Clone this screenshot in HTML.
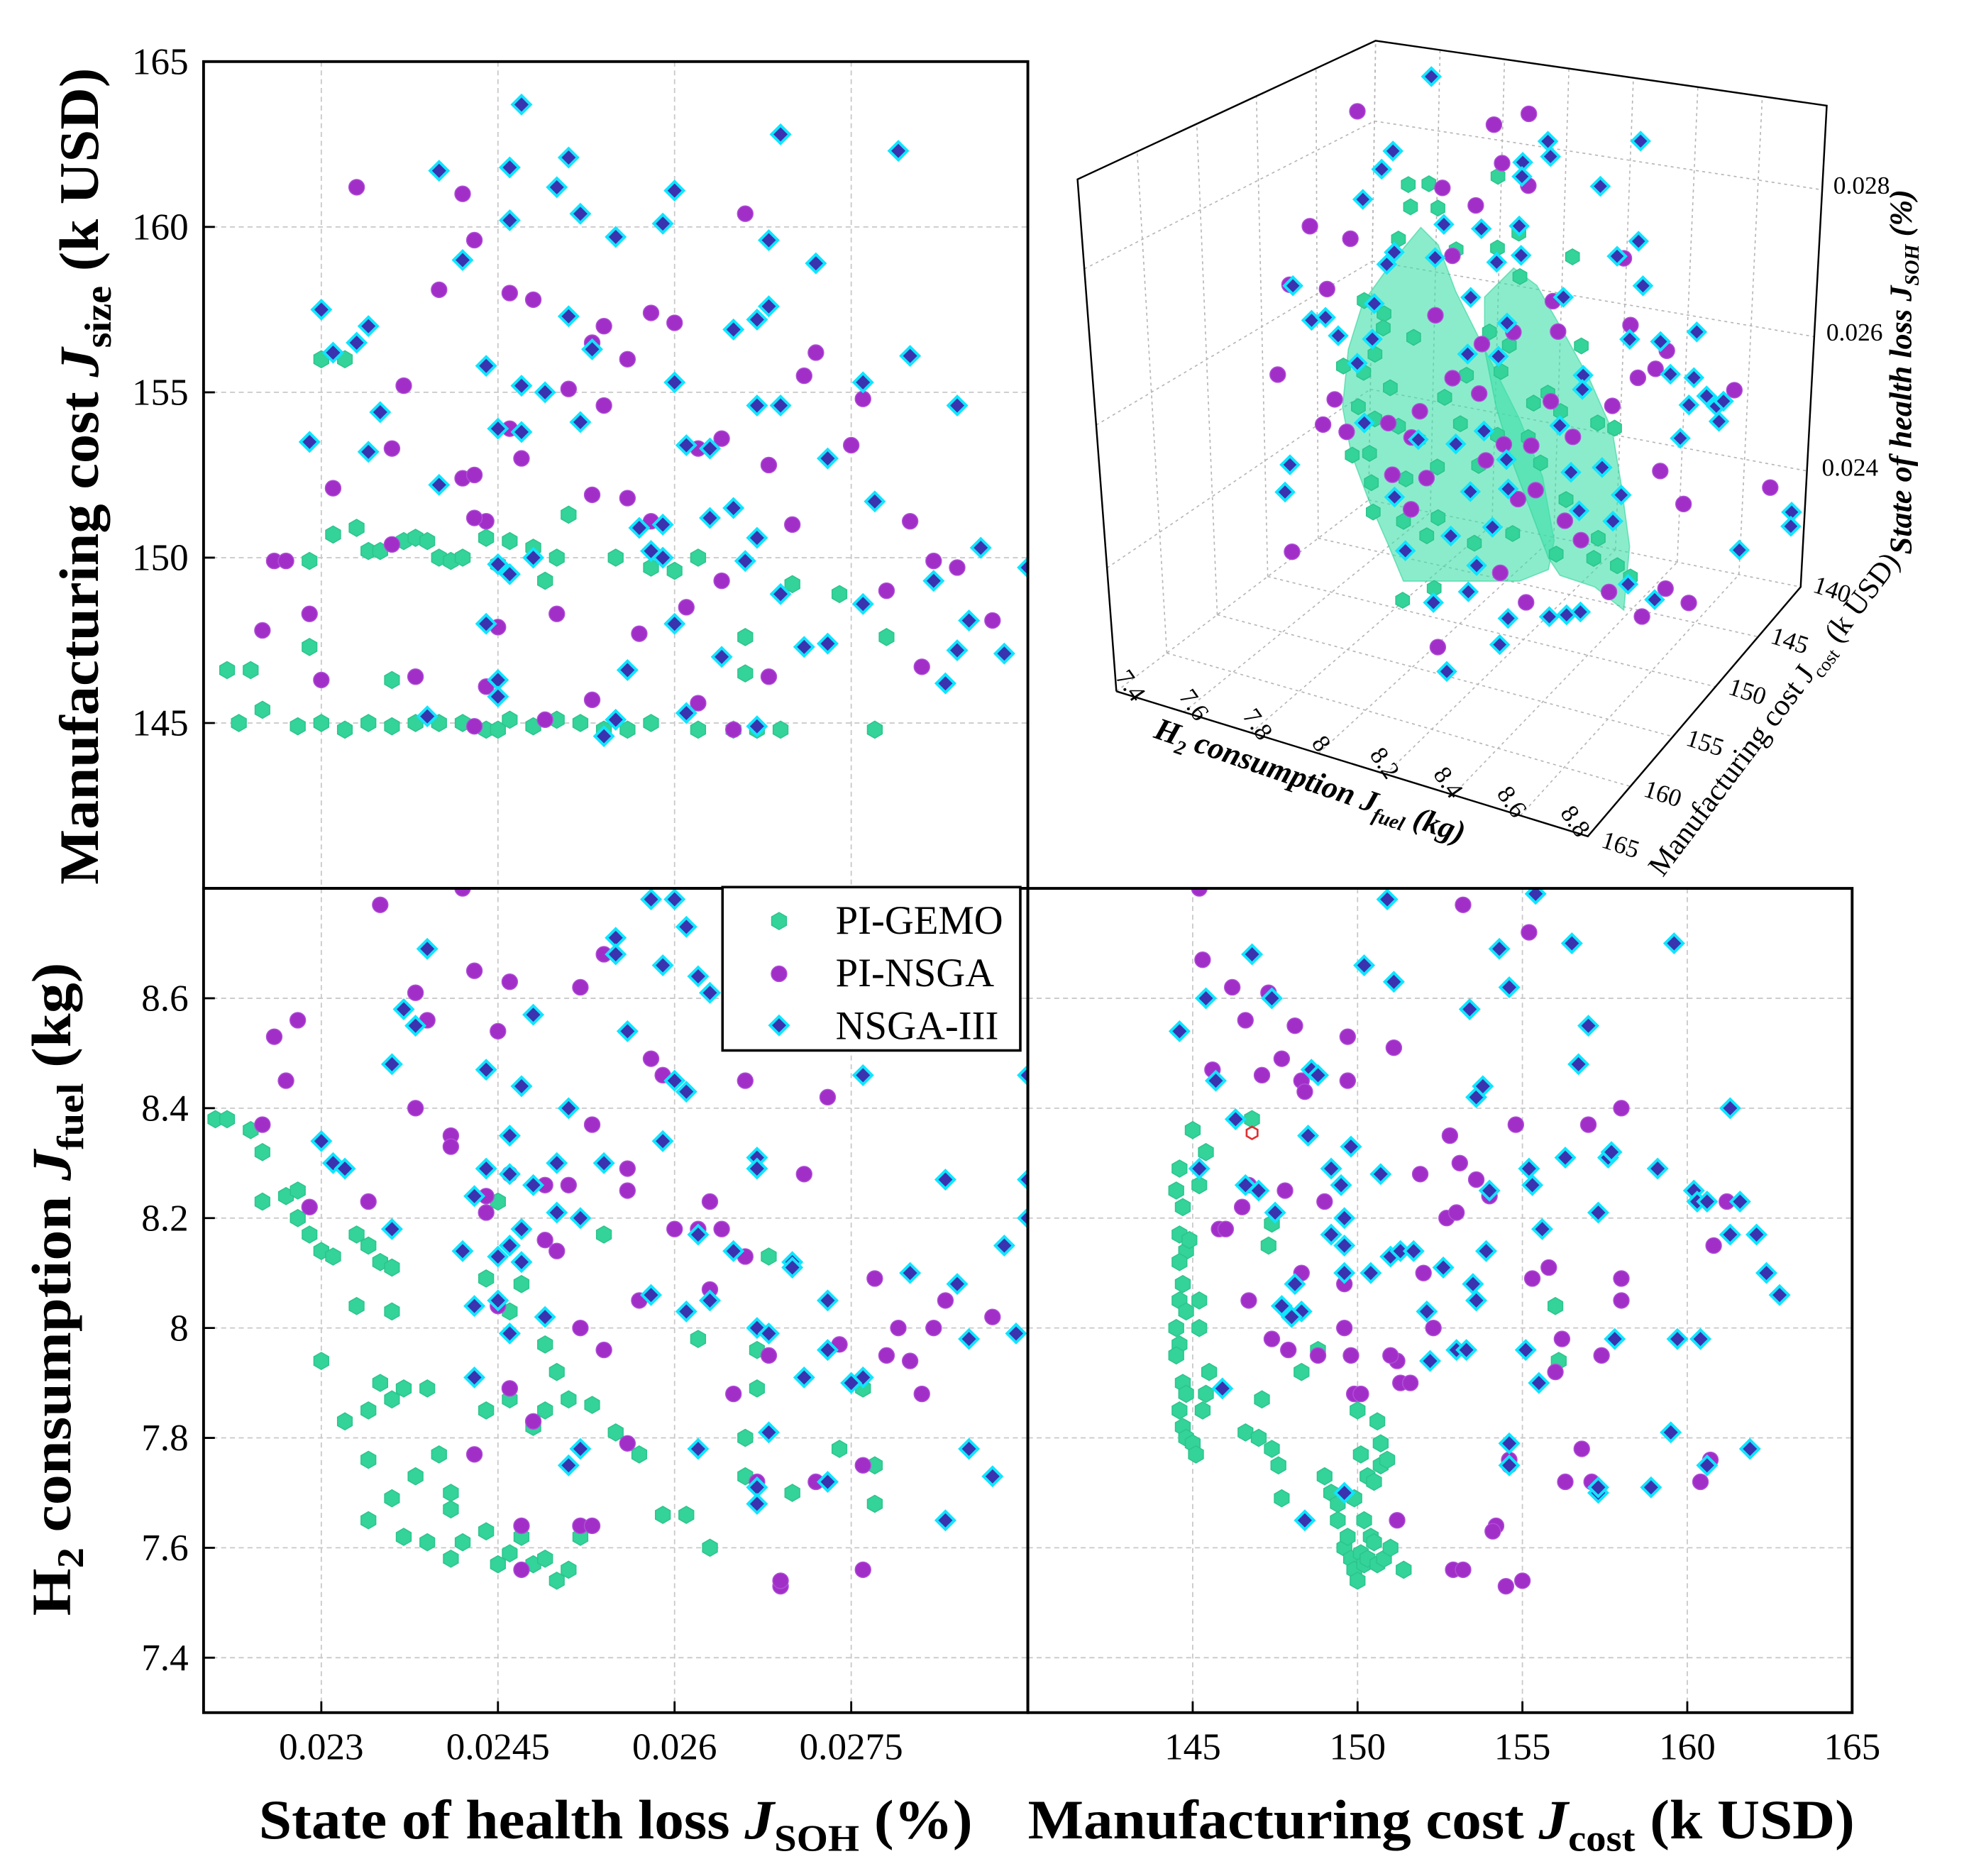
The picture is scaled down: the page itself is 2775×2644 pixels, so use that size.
<!DOCTYPE html>
<html><head><meta charset="utf-8"><title>Pareto fronts</title>
<style>
html,body{margin:0;padding:0;background:#fff;}
svg{display:block;}
text{font-family:"Liberation Serif","Times New Roman",serif;fill:#000;}
</style></head>
<body>
<svg id="chart" xmlns="http://www.w3.org/2000/svg" width="2775" height="2644" viewBox="0 -1 1567 1493">
<defs>
<clipPath id="clipTL"><rect x="162" y="48" width="656" height="658"/></clipPath>
<clipPath id="clipBL"><rect x="162" y="706" width="656" height="656"/></clipPath>
<clipPath id="clipBR"><rect x="818" y="706" width="656" height="656"/></clipPath>
</defs>
<rect x="0" y="-1" width="1567" height="1493" fill="#fff"/>
<g id="grids"></g>
<g id="box3d" transform="translate(840,0) scale(0.4615)">
  <g id="grid3d"></g>
  <g fill="#3de0a8" fill-opacity="0.6" stroke="#2fd39a" stroke-opacity="0.6" stroke-width="2">
    <polygon points="630,390 660,420 690,500 720,560 760,640 800,720 840,820 860,930 850,980 800,1000 700,1000 600,1000 575,940 540,860 510,780 495,700 505,600 530,520 580,450"/>
    <polygon points="740,510 790,460 830,490 870,560 920,650 960,740 975,830 990,940 980,1050 930,1010 870,990 850,960 820,880 790,800 760,700 740,600"/>
  </g>
</g>
<g id="points3d"></g>
<g id="box3dFront" transform="translate(840,0) scale(0.4615)" fill="none" stroke="#000" stroke-width="3">
  <polyline points="105,1190 38,307 552,68 1330,180 1285,1010 918,1440 105,1190"/>
</g>
<g id="labels3d"></g>
<g id="marksTL" clip-path="url(#clipTL)"></g>
<g id="marksBL" clip-path="url(#clipBL)"></g>
<g id="marksBR" clip-path="url(#clipBR)"></g>
<g id="frames" fill="none" stroke="#000" stroke-width="2.2">
  <rect x="162" y="48" width="656" height="658"/>
  <rect x="162" y="706" width="656" height="656"/>
  <rect x="818" y="706" width="656" height="656"/>
</g>
<g id="ticks"></g>
<text transform="translate(78,378) rotate(-90)" text-anchor="middle" font-weight="bold" font-size="44" textLength="650" lengthAdjust="spacingAndGlyphs">Manufacturing cost <tspan font-style="italic">J</tspan><tspan font-size="30" dy="10">size</tspan><tspan dy="-10"> (k USD)</tspan></text>
<text transform="translate(56,1025) rotate(-90)" text-anchor="middle" font-weight="bold" font-size="44" textLength="520" lengthAdjust="spacingAndGlyphs">H<tspan font-size="30" dy="10">2</tspan><tspan dy="-10"> consumption </tspan><tspan font-style="italic">J</tspan><tspan font-size="30" dy="10">fuel</tspan><tspan dy="-10"> (kg)</tspan></text>
<text x="490" y="1462" text-anchor="middle" font-weight="bold" font-size="44" textLength="568" lengthAdjust="spacingAndGlyphs">State of health loss <tspan font-style="italic">J</tspan><tspan font-size="30" dy="10">SOH</tspan><tspan dy="-10"> (%)</tspan></text>
<text x="1147" y="1462" text-anchor="middle" font-weight="bold" font-size="44" textLength="658" lengthAdjust="spacingAndGlyphs">Manufacturing cost <tspan font-style="italic">J</tspan><tspan font-size="30" dy="10">cost</tspan><tspan dy="-10"> (k USD)</tspan></text>
<g id="legend">
  <rect x="575" y="705" width="237" height="130" fill="#fff" stroke="#000" stroke-width="2"/>
  <g id="legendMarks"></g>
  <text x="665" y="742" font-size="32">PI-GEMO</text>
  <text x="665" y="784" font-size="32">PI-NSGA</text>
  <text x="665" y="826" font-size="32">NSGA-III</text>
</g>
</svg>
<script>
// ---------- data: top-left (SOH loss, manufacturing cost) ----------
const tlGemo = [[0.0222,146.6],[0.0224,146.6],[0.0223,145.0],[0.0225,145.4],[0.0228,144.9],[0.0229,147.3],[0.0230,145.0],[0.0232,144.8],[0.0234,145.0],[0.0236,144.9],[0.0238,145.0],[0.0240,145.0],[0.0242,145.0],[0.0244,144.8],[0.0245,144.8],[0.0246,145.1],[0.0248,144.9],[0.0250,145.1],[0.0252,145.0],[0.0254,144.8],[0.0256,144.8],[0.0258,145.0],[0.0262,144.8],[0.0265,144.8],[0.0267,144.8],[0.0269,144.8],[0.0277,144.8],[0.0230,156.0],[0.0232,156.0],[0.0231,150.7],[0.0233,150.9],[0.0234,150.2],[0.0235,150.2],[0.0237,150.5],[0.0238,150.6],[0.0239,150.5],[0.0240,150.0],[0.0241,149.9],[0.0242,150.0],[0.0244,150.6],[0.0245,149.8],[0.0246,150.5],[0.0248,150.3],[0.0249,149.3],[0.0250,150.0],[0.0251,151.3],[0.0255,150.0],[0.0258,149.7],[0.0260,149.6],[0.0262,150.0],[0.0266,147.6],[0.0266,146.5],[0.0270,149.2],[0.0274,148.9],[0.0278,147.6],[0.0236,146.3],[0.0229,149.9]];
const tlNsga = [[0.0233,161.2],[0.0242,161.0],[0.0243,159.6],[0.0240,158.1],[0.0237,155.2],[0.0236,153.3],[0.0231,152.1],[0.0242,152.4],[0.0243,152.5],[0.0244,151.1],[0.0243,151.2],[0.0226,149.9],[0.0227,149.9],[0.0225,147.8],[0.0229,148.3],[0.0230,146.3],[0.0238,146.4],[0.0244,146.1],[0.0245,147.9],[0.0246,158.0],[0.0248,157.8],[0.0246,153.9],[0.0247,153.0],[0.0251,155.1],[0.0253,156.5],[0.0254,157.0],[0.0256,156.0],[0.0258,157.4],[0.0260,157.1],[0.0262,153.3],[0.0264,153.6],[0.0266,160.4],[0.0268,152.8],[0.0270,151.0],[0.0271,155.5],[0.0272,156.2],[0.0275,153.4],[0.0276,154.8],[0.0280,151.1],[0.0282,149.9],[0.0284,149.7],[0.0287,148.1],[0.0291,146.0],[0.0253,151.9],[0.0256,151.8],[0.0258,151.1],[0.0250,148.3],[0.0253,145.7],[0.0257,147.7],[0.0261,148.5],[0.0264,149.3],[0.0262,145.6],[0.0265,144.8],[0.0268,146.4],[0.0278,149.0],[0.0281,146.7],[0.0254,154.6],[0.0249,145.1],[0.0243,144.9],[0.0236,150.4]];
const tlNsga3 = [[0.0247,163.7],[0.0251,162.1],[0.0269,162.8],[0.0279,162.3],[0.0240,161.7],[0.0246,161.8],[0.0250,161.2],[0.0260,161.1],[0.0252,160.4],[0.0255,159.7],[0.0259,160.1],[0.0246,160.2],[0.0242,159.0],[0.0268,159.6],[0.0272,158.9],[0.0230,157.5],[0.0231,156.2],[0.0233,156.5],[0.0234,157.0],[0.0244,155.8],[0.0247,155.2],[0.0249,155.0],[0.0251,157.3],[0.0253,156.3],[0.0260,155.3],[0.0265,156.9],[0.0267,157.2],[0.0268,157.6],[0.0276,155.3],[0.0280,156.1],[0.0284,154.6],[0.0291,153.8],[0.0229,153.5],[0.0234,153.2],[0.0235,154.4],[0.0240,152.2],[0.0245,153.9],[0.0247,153.8],[0.0252,154.1],[0.0261,153.4],[0.0263,153.3],[0.0267,154.6],[0.0269,154.6],[0.0273,153.0],[0.0277,151.7],[0.0259,151.0],[0.0263,151.2],[0.0265,151.5],[0.0267,150.6],[0.0245,149.8],[0.0246,149.5],[0.0248,150.0],[0.0257,150.9],[0.0258,150.2],[0.0259,150.0],[0.0266,149.9],[0.0276,148.6],[0.0282,149.3],[0.0285,148.1],[0.0288,147.1],[0.0290,149.7],[0.0291,148.5],[0.0286,150.3],[0.0283,146.2],[0.0284,147.2],[0.0244,148.0],[0.0245,146.3],[0.0256,146.6],[0.0260,148.0],[0.0264,147.0],[0.0271,147.3],[0.0269,148.9],[0.0273,147.4],[0.0255,145.1],[0.0254,144.6],[0.0267,144.9],[0.0245,145.8],[0.0239,145.2],[0.0261,145.3]];
// ---------- data: bottom-left (SOH loss, H2 consumption) ----------
const blGemo = [[0.0221,8.38],[0.0222,8.38],[0.0224,8.36],[0.0225,8.32],[0.0225,8.23],[0.0227,8.24],[0.0228,8.25],[0.0228,8.20],[0.0229,8.17],[0.0230,8.14],[0.0231,8.13],[0.0233,8.17],[0.0233,8.04],[0.0234,8.15],[0.0235,8.12],[0.0236,8.11],[0.0236,8.03],[0.0230,7.94],[0.0232,7.83],[0.0234,7.85],[0.0236,7.87],[0.0235,7.90],[0.0237,7.89],[0.0239,7.89],[0.0234,7.76],[0.0236,7.69],[0.0238,7.73],[0.0240,7.77],[0.0241,7.70],[0.0241,7.67],[0.0234,7.65],[0.0237,7.62],[0.0239,7.61],[0.0241,7.58],[0.0242,7.61],[0.0244,7.63],[0.0245,7.57],[0.0246,7.59],[0.0247,7.62],[0.0248,7.57],[0.0249,7.58],[0.0250,7.54],[0.0251,7.56],[0.0252,7.62],[0.0248,7.82],[0.0249,7.85],[0.0251,7.87],[0.0253,7.86],[0.0255,7.81],[0.0257,7.77],[0.0259,7.66],[0.0261,7.66],[0.0263,7.60],[0.0244,8.09],[0.0245,8.23],[0.0246,8.03],[0.0247,8.08],[0.0249,7.97],[0.0250,7.92],[0.0254,8.17],[0.0266,7.80],[0.0267,7.89],[0.0268,8.13],[0.0266,7.73],[0.0270,7.70],[0.0274,7.78],[0.0277,7.75],[0.0277,7.68],[0.0276,7.89],[0.0267,7.96],[0.0244,7.85],[0.0246,7.87],[0.0262,7.98]];
const blNsga = [[0.0226,8.53],[0.0227,8.45],[0.0228,8.56],[0.0225,8.37],[0.0229,8.22],[0.0234,8.23],[0.0235,8.77],[0.0238,8.61],[0.0239,8.56],[0.0238,8.40],[0.0241,8.35],[0.0241,8.33],[0.0243,8.65],[0.0242,8.80],[0.0245,8.54],[0.0246,8.63],[0.0244,8.21],[0.0244,8.24],[0.0246,8.28],[0.0249,8.26],[0.0251,8.26],[0.0253,8.37],[0.0252,8.62],[0.0254,8.68],[0.0256,8.29],[0.0256,8.25],[0.0258,8.49],[0.0259,8.46],[0.0260,8.18],[0.0262,8.18],[0.0263,8.23],[0.0264,8.18],[0.0266,8.45],[0.0266,8.13],[0.0249,8.16],[0.0250,8.14],[0.0245,8.04],[0.0246,7.89],[0.0243,7.77],[0.0248,7.83],[0.0252,8.00],[0.0254,7.96],[0.0257,8.05],[0.0263,8.07],[0.0265,7.88],[0.0267,7.72],[0.0268,7.95],[0.0271,8.28],[0.0272,7.72],[0.0274,7.97],[0.0273,8.42],[0.0276,7.75],[0.0277,8.09],[0.0278,7.95],[0.0279,8.00],[0.0280,7.94],[0.0281,7.88],[0.0283,8.05],[0.0282,8.00],[0.0287,8.02],[0.0269,7.53],[0.0269,7.54],[0.0276,7.56],[0.0247,7.56],[0.0247,7.64],[0.0252,7.64],[0.0253,7.64],[0.0256,7.79]];
const blNsga3 = [[0.0230,8.34],[0.0231,8.30],[0.0232,8.29],[0.0236,8.18],[0.0236,8.48],[0.0237,8.58],[0.0238,8.55],[0.0239,8.69],[0.0242,8.14],[0.0243,8.24],[0.0244,8.29],[0.0244,8.47],[0.0246,8.35],[0.0246,8.28],[0.0245,8.13],[0.0246,8.15],[0.0247,8.18],[0.0247,8.44],[0.0248,8.26],[0.0248,8.57],[0.0250,8.21],[0.0251,8.40],[0.0250,8.30],[0.0252,8.20],[0.0254,8.30],[0.0255,8.71],[0.0255,8.68],[0.0256,8.54],[0.0258,8.78],[0.0259,8.66],[0.0260,8.78],[0.0261,8.73],[0.0259,8.34],[0.0260,8.45],[0.0261,8.43],[0.0262,8.64],[0.0263,8.61],[0.0262,8.17],[0.0265,8.14],[0.0267,8.31],[0.0267,8.29],[0.0270,8.12],[0.0270,8.11],[0.0273,8.05],[0.0276,8.46],[0.0280,8.10],[0.0283,8.27],[0.0284,8.08],[0.0288,8.15],[0.0290,8.20],[0.0290,8.27],[0.0290,8.46],[0.0289,7.99],[0.0285,7.98],[0.0285,7.78],[0.0283,7.65],[0.0287,7.73],[0.0276,7.91],[0.0275,7.90],[0.0273,7.96],[0.0271,7.91],[0.0267,8.00],[0.0268,7.99],[0.0263,8.05],[0.0261,8.03],[0.0258,8.06],[0.0262,7.78],[0.0267,7.71],[0.0267,7.68],[0.0268,7.81],[0.0273,7.72],[0.0252,7.78],[0.0251,7.75],[0.0249,8.02],[0.0247,8.12],[0.0243,8.04],[0.0243,7.91],[0.0246,7.99],[0.0245,8.05]];
// ---------- data: bottom-right (manufacturing cost, H2 consumption) ----------
const brGemo = [[144.6,8.29],[144.5,8.25],[144.7,8.22],[144.6,8.17],[144.8,8.14],[144.6,8.12],[144.7,8.08],[144.6,8.05],[144.8,8.03],[144.5,8.00],[144.6,7.97],[144.5,7.95],[144.7,7.90],[144.8,7.88],[144.6,7.85],[144.7,7.82],[144.8,7.80],[145.0,7.79],[145.1,7.77],[145.3,7.85],[145.4,7.88],[145.5,7.92],[145.0,8.36],[145.2,8.26],[145.4,8.32],[145.2,8.00],[144.9,8.16],[145.2,8.05],[146.8,8.38],[146.6,7.81],[147.0,7.80],[147.1,7.87],[147.3,8.15],[147.4,8.19],[147.4,7.78],[147.6,7.75],[147.7,7.69],[148.3,7.92],[148.8,7.96],[149.0,7.73],[149.2,7.70],[149.4,7.68],[149.4,7.65],[149.6,7.60],[149.7,7.62],[149.8,7.58],[149.9,7.56],[150.0,7.54],[150.1,7.59],[150.2,7.57],[150.3,7.58],[150.4,7.62],[150.5,7.61],[150.6,7.57],[150.8,7.58],[151.0,7.60],[150.1,7.77],[150.3,7.73],[150.5,7.72],[150.7,7.75],[150.9,7.76],[150.0,7.85],[150.6,7.83],[150.7,7.79],[151.4,7.56],[156.0,8.04],[156.1,7.94],[150.2,7.65],[149.9,7.69]];
const brNsga = [[145.2,8.80],[145.3,8.67],[145.6,8.47],[146.2,8.62],[146.6,8.56],[147.1,8.46],[147.3,8.61],[147.7,8.49],[148.1,8.55],[148.3,8.45],[148.4,8.43],[149.7,8.53],[149.7,8.45],[151.1,8.51],[145.8,8.18],[146.0,8.18],[146.5,8.22],[146.7,8.26],[146.7,8.05],[147.4,7.98],[147.8,8.25],[148.3,8.10],[147.9,7.96],[148.8,7.95],[149.0,8.23],[149.6,8.00],[149.8,7.95],[149.9,7.88],[151.2,7.94],[151.3,7.90],[151.0,7.95],[151.6,7.90],[151.9,8.28],[152.0,8.10],[152.3,8.00],[152.8,8.35],[152.7,8.20],[153.0,8.21],[153.1,8.30],[153.2,8.77],[153.6,8.27],[154.0,8.24],[154.8,8.37],[155.2,8.72],[155.3,8.09],[155.8,8.11],[156.2,7.98],[157.0,8.37],[157.4,7.95],[158.0,8.40],[158.0,8.05],[158.0,8.09],[156.8,7.78],[157.1,7.72],[156.3,7.72],[156.0,7.92],[154.6,7.75],[154.6,7.76],[154.2,7.64],[154.1,7.63],[152.9,7.56],[153.2,7.56],[154.5,7.53],[155.0,7.54],[151.2,7.65],[160.4,7.72],[160.7,7.76],[160.8,8.15],[161.2,8.23],[150.1,7.88],[149.6,8.08]];
const brNsga3 = [[144.6,8.54],[145.4,8.60],[145.7,8.45],[146.8,8.68],[147.4,8.60],[146.3,8.38],[146.6,8.26],[147.0,8.25],[147.5,8.21],[147.7,8.04],[148.1,8.08],[148.3,8.03],[148.0,8.02],[148.5,8.35],[148.6,8.47],[148.8,8.46],[149.2,8.29],[149.5,8.26],[149.6,8.20],[149.2,8.17],[149.6,8.15],[149.6,8.10],[149.8,8.33],[150.2,8.66],[150.4,8.10],[150.9,8.78],[151.1,8.63],[150.7,8.28],[151.0,8.13],[151.3,8.14],[151.7,8.14],[152.1,8.03],[152.2,7.94],[152.6,8.11],[153.0,7.96],[153.4,8.58],[153.6,8.42],[153.8,8.44],[153.5,8.08],[153.6,8.05],[153.9,8.14],[154.0,8.25],[154.3,8.69],[154.6,8.62],[155.4,8.79],[155.2,8.29],[155.3,8.26],[155.6,8.18],[156.5,8.70],[156.3,8.31],[156.7,8.48],[157.0,8.55],[157.3,8.21],[157.6,8.31],[157.7,8.32],[159.6,8.70],[159.1,8.29],[160.2,8.25],[160.3,8.23],[160.6,8.23],[161.3,8.40],[161.6,8.23],[162.1,8.17],[162.4,8.10],[162.8,8.06],[161.3,8.17],[159.7,7.98],[160.4,7.98],[158.9,7.71],[159.5,7.81],[160.6,7.75],[161.9,7.78],[157.3,7.70],[157.3,7.71],[155.5,7.90],[154.6,7.79],[154.6,7.75],[155.1,7.96],[153.3,7.96],[157.8,7.98],[148.4,7.65],[149.6,7.70],[145.9,7.89],[145.2,8.29]];
const brHighlight = [[146.8,8.355]];
// ---------- data: 3D panel (fuel, cost, soh) ----------
const gemo3dFuel = [7.88,7.94,7.89,7.97,8.14,7.86,8.03,8.15,8.21,8.37,8.22,7.77,7.83,7.83,7.92,7.72,7.81,7.86,7.77,7.82,7.76,7.81,7.89,8.02,8.08,8.14,8.20,8.18,8.41,8.32,8.28,8.36,8.47,8.52,7.82,7.92,8.01,8.13,8.18,8.31,8.39,7.83,7.92,7.99,8.02,8.13,8.24,8.37,8.49,8.48,8.55,8.59,7.93,8.02,7.78,7.95,8.07,8.27];
const gemo3dCost = [152.5,152.5,152.5,152.5,152.5,152.5,152.5,152.5,152.5,152.5,152.5,152.5,152.5,152.5,152.5,152.5,152.5,152.5,152.5,152.5,152.5,152.5,152.5,152.5,152.5,152.5,152.5,152.5,152.5,152.5,152.5,152.5,152.5,152.5,152.5,152.5,152.5,152.5,152.5,152.5,152.5,152.5,152.5,152.5,152.5,152.5,152.5,152.5,152.5,152.5,152.5,152.5,152.5,152.5,152.5,152.5,152.5,152.5];
const gemo3dSoh = [0.0285,0.0286,0.0282,0.0283,0.0290,0.0277,0.0278,0.0280,0.0283,0.0282,0.0277,0.0267,0.0266,0.0264,0.0264,0.0257,0.0260,0.0256,0.0252,0.0251,0.0245,0.0246,0.0251,0.0257,0.0261,0.0268,0.0267,0.0263,0.0270,0.0262,0.0260,0.0260,0.0260,0.0260,0.0242,0.0244,0.0247,0.0249,0.0254,0.0252,0.0248,0.0238,0.0238,0.0237,0.0240,0.0238,0.0241,0.0240,0.0244,0.0241,0.0241,0.0240,0.0227,0.0230,0.0257,0.0250,0.0254,0.0255];
const nsga3dFuel = [7.72,8.12,8.22,8.15,8.23,7.60,7.98,8.08,7.72,8.02,7.55,7.66,7.98,8.12,8.21,8.34,8.32,8.52,8.55,8.58,8.66,8.62,7.53,7.70,7.67,7.74,7.86,7.95,8.04,8.12,7.93,8.20,8.28,8.33,8.40,8.51,8.15,7.98,7.88,8.30,8.25,8.39,8.44,7.94,7.60,8.66,8.49,8.74,8.21,8.29,8.53,8.63,8.59,8.66,8.04,8.63];
const nsga3dCost = [152.5,152.5,152.5,152.5,152.5,152.5,152.5,152.5,152.5,152.5,152.5,152.5,152.5,152.5,152.5,152.5,152.5,152.5,152.5,152.5,152.5,142,152.5,152.5,152.5,152.5,152.5,152.5,152.5,152.5,152.5,152.5,152.5,152.5,152.5,152.5,152.5,152.5,152.5,152.5,152.5,152.5,152.5,152.5,152.5,152.5,142,142,152.5,152.5,152.5,152.5,148,148,152.5,152.5];
const nsga3dSoh = [0.0293,0.0297,0.0300,0.0292,0.0290,0.0275,0.0286,0.0285,0.0275,0.0277,0.0266,0.0267,0.0268,0.0266,0.0269,0.0271,0.0275,0.0284,0.0275,0.0268,0.0273,0.0252,0.0253,0.0252,0.0248,0.0248,0.0251,0.0254,0.0260,0.0259,0.0250,0.0253,0.0254,0.0261,0.0257,0.0263,0.0250,0.0245,0.0244,0.0248,0.0246,0.0245,0.0243,0.0240,0.0229,0.0256,0.0234,0.0240,0.0235,0.0232,0.0237,0.0235,0.0232,0.0231,0.0222,0.0270];
const nsga33dFuel = [7.93,7.83,7.80,7.75,8.28,8.29,8.21,8.21,8.55,8.44,7.99,8.10,8.21,8.22,7.85,7.83,7.97,8.15,8.56,8.50,8.58,7.56,7.62,7.66,7.70,7.80,7.80,7.76,8.08,8.08,8.19,8.17,8.35,8.64,8.64,8.57,8.50,8.54,8.49,8.57,8.58,8.59,8.42,8.42,8.47,7.95,8.06,8.14,8.36,8.21,8.40,8.49,7.89,8.11,8.22,8.43,8.53,8.55,7.58,7.57,8.18,8.06,7.93,8.14,8.66,8.76,8.76,8.12,8.02,8.48,8.56,8.36,8.41,8.45,8.24,8.22,8.07,7.79,8.55];
const nsga33dCost = [152.5,152.5,152.5,152.5,152.5,152.5,152.5,152.5,152.5,152.5,152.5,152.5,152.5,152.5,152.5,152.5,152.5,152.5,152.5,152.5,152.5,152.5,152.5,152.5,152.5,152.5,152.5,152.5,152.5,152.5,152.5,152.5,152.5,148,152.5,148,142,142,142,142,142,142,152.5,152.5,142,152.5,152.5,152.5,152.5,152.5,152.5,152.5,152.5,152.5,152.5,152.5,152.5,152.5,152.5,152.5,152.5,152.5,152.5,152.5,142,140,140,152.5,152.5,148,148,152.5,152.5,152.5,152.5,152.5,152.5,152.5,152.5];
const nsga33dSoh = [0.0301,0.0289,0.0286,0.0281,0.0297,0.0295,0.0293,0.0291,0.0301,0.0293,0.0281,0.0282,0.0284,0.0280,0.0275,0.0273,0.0276,0.0278,0.0287,0.0284,0.0281,0.0266,0.0262,0.0263,0.0261,0.0267,0.0262,0.0258,0.0272,0.0264,0.0270,0.0265,0.0276,0.0269,0.0274,0.0262,0.0252,0.0250,0.0248,0.0249,0.0247,0.0250,0.0266,0.0264,0.0243,0.0250,0.0251,0.0254,0.0258,0.0251,0.0252,0.0254,0.0241,0.0245,0.0247,0.0247,0.0247,0.0251,0.0241,0.0237,0.0241,0.0238,0.0234,0.0235,0.0230,0.0234,0.0232,0.0231,0.0228,0.0231,0.0230,0.0231,0.0232,0.0233,0.0229,0.0225,0.0219,0.0250,0.0273];
// ---------- tick labels ----------
const sohTicks = [0.023,0.0245,0.026,0.0275];
const sohTickLabels = ["0.023","0.0245","0.026","0.0275"];
const costYTicks = [145,150,155,160,165];
const fuelTicks = [7.4,7.6,7.8,8,8.2,8.4,8.6];
const fuelTickLabels = ["7.4","7.6","7.8","8","8.2","8.4","8.6"];
const costXTicks = [145,150,155,160,165];
const fuel3dTicks = ["7.4","7.6","7.8","8","8.2","8.4","8.6","8.8"];
const cost3dTicks = ["140","145","150","155","160","165"];
const soh3dTicks = ["0.024","0.026","0.028"];

const NS = "http://www.w3.org/2000/svg";
const GREEN = "#33d39a", PURPLE = "#a22ec8", BLUE = "#3a33b0", CYAN = "#10e5ff";
function el(tag, attrs, parent){ const e=document.createElementNS(NS,tag); for(const k in attrs) e.setAttribute(k,attrs[k]); parent.appendChild(e); return e; }

const xSoh = v => 162 + (v - 0.022) / 0.007 * 656;
const yCostTL = v => 706 - (v - 140) / 25 * 658;
const yFuel = v => 1362 - (v - 7.3) / 1.5 * 656;
const xCost = v => 818 + (v - 140) / 25 * 656;

function hexagon(g, x, y, r, fill){
  const pts=[]; for(let i=0;i<6;i++){ const a=Math.PI/6+i*Math.PI/3; pts.push((x+r*Math.cos(a)).toFixed(1)+","+(y+r*Math.sin(a)).toFixed(1)); }
  return el("polygon",{points:pts.join(" "),fill:fill,stroke:"#2bc48c","stroke-width":0.8},g);
}
function circle(g,x,y,r){ return el("circle",{cx:x,cy:y,r:r,fill:PURPLE,stroke:"#b050d8","stroke-width":0.8},g); }
function diamond(g,x,y,r){ return el("polygon",{points:`${x},${y-r} ${x+r},${y} ${x},${y+r} ${x-r},${y}`,fill:BLUE,stroke:CYAN,"stroke-width":2.2},g); }

function drawSeries(g, data, fx, fy, kind, name){
  data.forEach(d=>{
    const x=fx(d[0]), y=fy(d[1]); let m;
    if(kind==="hex") m=hexagon(g,x,y,6.8,GREEN);
    else if(kind==="circ") m=circle(g,x,y,6.2);
    else m=diamond(g,x,y,7.2);
    
    
  });
}

const grids=document.getElementById("grids");
function gline(x1,y1,x2,y2){ const l=el("line",{x1:x1,y1:y1,x2:x2,y2:y2,stroke:"#c8c8c8","stroke-width":1,"stroke-dasharray":"4,3"},grids);
    }
sohTicks.forEach(v=>{ gline(xSoh(v),48,xSoh(v),706); gline(xSoh(v),706,xSoh(v),1362); });
costYTicks.slice(0,4).forEach(v=>gline(162,yCostTL(v),818,yCostTL(v)));
fuelTicks.forEach(v=>{ gline(162,yFuel(v),818,yFuel(v)); gline(818,yFuel(v),1474,yFuel(v)); });
costXTicks.slice(0,4).forEach(v=>gline(xCost(v),706,xCost(v),1362));

const ticks=document.getElementById("ticks");
function tk(x1,y1,x2,y2){ el("line",{x1:x1,y1:y1,x2:x2,y2:y2,stroke:"#000","stroke-width":1.6},ticks); }
function lbl(x,y,t,anchor,name){ const e=el("text",{x:x,y:y,"font-size":30,"text-anchor":anchor},ticks); e.textContent=t;
    }
sohTicks.forEach((v,i)=>{ tk(xSoh(v),1362,xSoh(v),1353); lbl(xSoh(v),1399,sohTickLabels[i],"middle","x-tick-label-soh"); });
costYTicks.forEach(v=>{ tk(162,yCostTL(v),171,yCostTL(v)); lbl(150,yCostTL(v)+10,String(v),"end","y-tick-label-cost"); });
fuelTicks.forEach((v,i)=>{ tk(162,yFuel(v),171,yFuel(v)); lbl(150,yFuel(v)+10,fuelTickLabels[i],"end","y-tick-label-fuel"); });
costXTicks.forEach(v=>{ tk(xCost(v),1362,xCost(v),1353); lbl(xCost(v),1399,String(v),"middle","x-tick-label-cost"); });

const gTL=document.getElementById("marksTL"), gBL=document.getElementById("marksBL"), gBR=document.getElementById("marksBR");
drawSeries(gTL,tlGemo,xSoh,yCostTL,"hex","pi-gemo-point");
drawSeries(gTL,tlNsga,xSoh,yCostTL,"circ","pi-nsga-point");
drawSeries(gTL,tlNsga3,xSoh,yCostTL,"dia","nsga-iii-point");
drawSeries(gBL,blGemo,xSoh,yFuel,"hex","pi-gemo-point");
drawSeries(gBL,blNsga,xSoh,yFuel,"circ","pi-nsga-point");
drawSeries(gBL,blNsga3,xSoh,yFuel,"dia","nsga-iii-point");
drawSeries(gBR,brGemo,xCost,yFuel,"hex","pi-gemo-point");
drawSeries(gBR,brNsga,xCost,yFuel,"circ","pi-nsga-point");
drawSeries(gBR,brNsga3,xCost,yFuel,"dia","nsga-iii-point");
brHighlight.forEach(d=>{ const h=hexagon(gBR,xCost(d[0]),yFuel(d[1]),5,"none"); h.setAttribute("stroke","#e03030"); h.setAttribute("stroke-width","1.5");
    });

const lg=document.getElementById("legendMarks");
let lm=hexagon(lg,620,732,6.8,GREEN);  
lm=circle(lg,620,774,6.2);  
lm=diamond(lg,620,815,7.2);  

const LT=[38,307], BT=[552,68], RT=[1330,180], LB=[105,1190], F=[918,1440], RB=[1285,1010], BF=[540,860];
const lerp=(a,b,t)=>[a[0]+(b[0]-a[0])*t,a[1]+(b[1]-a[1])*t];
const g3=document.getElementById("grid3d");
function g3line(p,q){ el("line",{x1:p[0],y1:p[1],x2:q[0],y2:q[1],stroke:"#b5b5b5","stroke-width":2,"stroke-dasharray":"5,6"},g3); }
const sohLevels=[0.241,0.52,0.825];
for(let k=0;k<=5;k++){ const u=k/5; g3line(lerp(LB,BF,u),lerp(LT,BT,u)); g3line(lerp(LB,BF,u),lerp(F,RB,u)); }
for(let k=0;k<=7;k++){ const u=k/7; g3line(lerp(BF,RB,u),lerp(BT,RT,u)); g3line(lerp(LB,F,u),lerp(BF,RB,u)); }
sohLevels.forEach(t=>{ g3line(lerp(LB,LT,t),lerp(BF,BT,t)); g3line(lerp(BF,BT,t),lerp(RB,RT,t)); });

function proj(fuel,cost,soh){
  const f=(fuel-7.4)/1.4, c=(165-cost)/25, s=(soh-0.0224)/0.0068;
  return [888.5+376*f+169*c+21*s, 549.2+116*f-199*c-383*s];
}
const p3=document.getElementById("points3d");
gemo3dFuel.forEach((v,i)=>{ const p=proj(v,gemo3dCost[i],gemo3dSoh[i]); const m=hexagon(p3,p[0],p[1],6.3,GREEN);
    });
nsga3dFuel.forEach((v,i)=>{ const p=proj(v,nsga3dCost[i],nsga3dSoh[i]); const m=circle(p3,p[0],p[1],6.2);
    });
nsga33dFuel.forEach((v,i)=>{ const p=proj(v,nsga33dCost[i],nsga33dSoh[i]); const m=diamond(p3,p[0],p[1],6.8);
    });

const l3=document.getElementById("labels3d");
const Z=(zx,zy)=>[840+zx*0.4615, zy*0.4615];
function lab3(p,t,rot,name,size){ const e=el("text",{x:0,y:0,"font-size":size||20,"text-anchor":"middle",transform:`translate(${p[0].toFixed(1)},${p[1].toFixed(1)}) rotate(${rot})`},l3);
  e.textContent=t;   return e; }
fuel3dTicks.forEach((t,i)=>{ const u=i/7; const base=lerp([118,1218],[885,1452],u); lab3(Z(base[0],base[1]-30),t,55,"3d-tick-label-fuel"); });
cost3dTicks.forEach((t,i)=>{ const u=i/5; const base=lerp([1335,1028],[970,1468],u); lab3(Z(base[0],base[1]),t,18,"3d-tick-label-cost"); });
soh3dTicks.forEach((t,i)=>{ const ys=[818,585,332]; const xs=[1370,1378,1390]; lab3(Z(xs[i],ys[i]),t,0,"3d-tick-label-soh"); });

let tt=el("text",{x:0,y:0,"font-size":25,"font-weight":"bold","font-style":"italic","text-anchor":"middle",transform:"translate(1521,295) rotate(-90)"},l3);
tt.innerHTML='State of health loss J<tspan font-size="16" dy="6">SOH</tspan><tspan dy="-6"> (%)</tspan>';
 
tt=el("text",{x:0,y:0,"font-size":25,"font-weight":"bold","font-style":"italic","text-anchor":"middle",transform:"translate(1040,628) rotate(19)"},l3);
tt.innerHTML='H<tspan font-size="16" dy="6">2</tspan><tspan dy="-6"> consumption J</tspan><tspan font-size="16" dy="6">fuel</tspan><tspan dy="-6"> (kg)</tspan>';
 
tt=el("text",{x:0,y:0,"font-size":24,"text-anchor":"middle",transform:"translate(1418,572) rotate(-53)"},l3);
tt.innerHTML='Manufacturing cost J<tspan font-size="15" dy="6">cost</tspan><tspan dy="-6"> (k USD)</tspan>';
 
</script>
</body></html>
